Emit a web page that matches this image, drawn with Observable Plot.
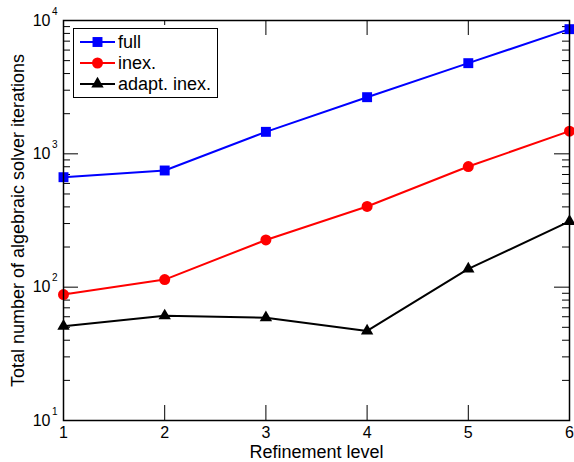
<!DOCTYPE html>
<html><head><meta charset="utf-8">
<script src="https://cdn.jsdelivr.net/npm/d3@7"></script>
<script src="https://cdn.jsdelivr.net/npm/@observablehq/plot@0.6"></script>
<style>
body{margin:0;background:#fff;font-family:"Liberation Sans",Arial,sans-serif;}
#wrap{position:relative;width:574px;height:462px;}
#legend{position:absolute;left:73px;top:28px;box-shadow:0 0 0 3px #fff;}
</style></head><body><div id="wrap"></div>
<script>
const levels = [1, 2, 3, 4, 5, 6];
const full = [668, 750, 1462, 2660, 4786, 8610];
const inex = [88, 114, 226, 403, 803, 1479];
const adapt = [51, 61, 59, 47, 137, 311];
const seriesNames = ["full", "inex.", "adapt. inex."];
const seriesColors = ["#0000ff", "#ff0000", "#000000"];
const seriesSymbols = ["square", "circle", "triangle"];
const seriesR = [5.6, 5.5, 4.6];
const yMajor = [10, 100, 1000, 10000];
const yExp = ["1", "2", "3", "4"];
const yMinor = [20, 30, 40, 50, 60, 70, 80, 90, 200, 300, 400, 500, 600, 700, 800, 900, 2000, 3000, 4000, 5000, 6000, 7000, 8000, 9000];
const xTicks = [1, 2, 3, 4, 5, 6];
const xLabel = "Refinement level";
const yLabel = "Total number of algebraic solver iterations";

const values = [full, inex, adapt];
const rows = [];
seriesNames.forEach((s, i) => levels.forEach((l, j) => rows.push({series: s, level: l, value: values[i][j]})));

const W = 574, H = 462, mL = 63, mR = 5, mT = 20, mB = 42;
const fw = W - mL - mR, fh = H - mT - mB;
const major = 15, minor = 7;
const font = '"Liberation Sans", Arial, sans-serif';
const plot = Plot.plot({
  width: W, height: H,
  marginLeft: mL, marginRight: mR, marginTop: mT, marginBottom: mB,
  style: {fontFamily: font, fontSize: "16px", background: "white", color: "black", overflow: "visible"},
  x: {domain: [1, 6], label: null, axis: null},
  y: {type: "log", domain: [10, 10000], label: null, axis: null},
  color: {domain: seriesNames, range: seriesColors},
  symbol: {domain: seriesNames, range: seriesSymbols},
  marks: [
    Plot.ruleY(yMinor, {insetRight: fw - minor, stroke: "#000"}),
    Plot.ruleY(yMinor, {insetLeft: fw - minor, stroke: "#000"}),
    Plot.ruleY(yMajor, {insetRight: fw - major, stroke: "#000"}),
    Plot.ruleY(yMajor, {insetLeft: fw - major, stroke: "#000"}),
    Plot.ruleX(xTicks, {insetTop: fh - major, stroke: "#000"}),
    Plot.ruleX(xTicks, {insetBottom: fh - major, stroke: "#000"}),
    Plot.text(xTicks, {x: d => d, frameAnchor: "bottom", text: d => String(d), textAnchor: "middle", dy: 17, fontSize: 16}),
    Plot.text(yMajor, {y: d => d, frameAnchor: "left", text: () => "10", textAnchor: "end", dx: -13, fontSize: 16}),
    Plot.text(yMajor, {y: d => d, frameAnchor: "left", text: (d, i) => yExp[i], textAnchor: "end", dx: -6, dy: -9, fontSize: 10}),
    Plot.line(rows, {x: "level", y: "value", stroke: "series", strokeWidth: 2}),
    ...seriesNames.map((s, i) => Plot.dot(rows, {filter: d => d.series === s, x: "level", y: "value", fill: "series", symbol: "series", r: seriesR[i]})),
    Plot.frame({stroke: "#000", strokeWidth: 1.5}),
    Plot.text([xLabel], {frameAnchor: "bottom", textAnchor: "middle", dy: 37, fontSize: 18}),
    Plot.text([yLabel], {frameAnchor: "left", textAnchor: "middle", rotate: -90, dx: -45, fontSize: 18})
  ]
});
const wrap = document.getElementById("wrap");
wrap.appendChild(plot);

// legend overlay
const lw = 145, lh = 70;
const leg = d3.create("svg").attr("id", "legend").attr("width", lw).attr("height", lh)
  .style("position", "absolute").style("left", "73px").style("top", "28px");
leg.append("rect").attr("x", 0.5).attr("y", 0.5).attr("width", lw - 1).attr("height", lh - 1)
  .attr("fill", "#fff").attr("stroke", "#000").attr("stroke-width", 1);
const symMap = {square: d3.symbolSquare, circle: d3.symbolCircle, triangle: d3.symbolTriangle};
seriesNames.forEach((s, i) => {
  const y = 14 + i * 21;
  leg.append("line").attr("x1", 7).attr("x2", 42).attr("y1", y).attr("y2", y)
    .attr("stroke", seriesColors[i]).attr("stroke-width", 2);
  leg.append("path").attr("transform", `translate(24.5,${y})`)
    .attr("d", d3.symbol(symMap[seriesSymbols[i]], Math.PI * seriesR[i] * seriesR[i])())
    .attr("fill", seriesColors[i]);
  leg.append("text").attr("x", 45).attr("y", y).attr("dy", "0.35em")
    .attr("font-family", font).attr("font-size", 18).text(s);
});
wrap.appendChild(leg.node());
</script></body></html>
